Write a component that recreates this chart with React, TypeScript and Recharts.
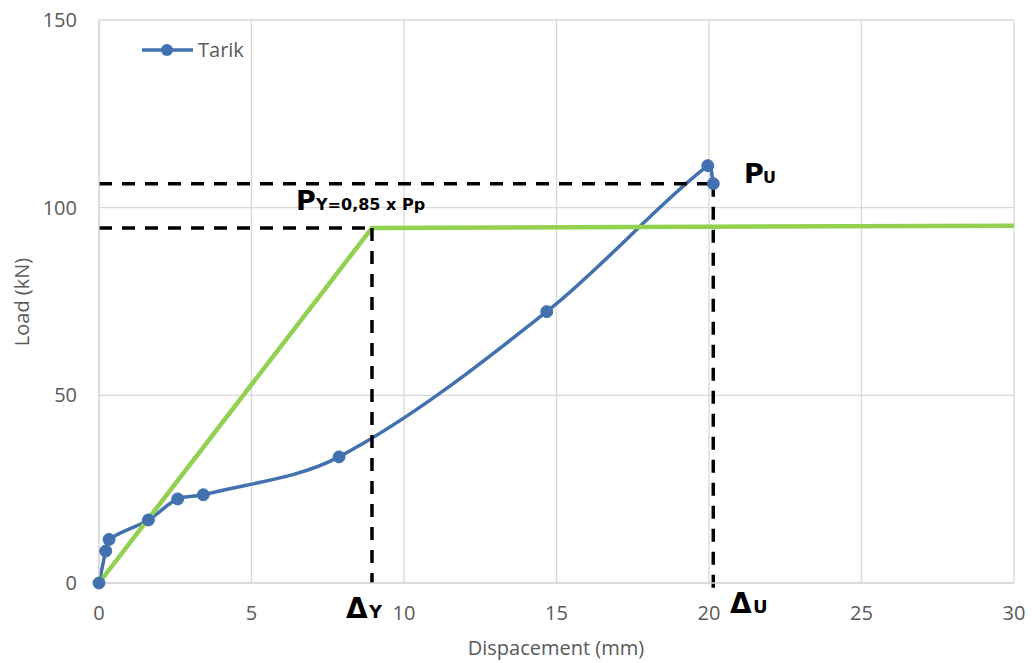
import { LineChart, Line, XAxis, YAxis, CartesianGrid, ReferenceLine } from 'recharts'

// Tarik test: displacement (mm) vs load (kN)
const dispTarik = [0, 0.22, 0.33, 1.62, 2.58, 3.42, 7.87, 14.68, 19.96, 20.14]
const loadTarik = [0, 8.5, 11.6, 16.8, 22.4, 23.5, 33.6, 72.3, 111.2, 106.4]

// idealised bilinear curve
const dispIdeal = [0, 8.95, 30]
const loadIdeal = [0, 94.6, 95.2]

const xTicks = [0, 5, 10, 15, 20, 25, 30]
const yTicks = [0, 50, 100, 150]

const yieldDisp = 8.95
const yieldLoad = 94.6
const ultDisp = 20.14
const ultLoad = 106.4

const BLUE = '#4271B0'
const GREEN = '#92D050'
const GRID = '#D9D9D9'
const TEXT = '#595959'
const FONT = '"Open Sans", "Noto Sans", sans-serif'
const BOLD = '"DejaVu Sans", sans-serif'

const tarik = dispTarik.map((x, i) => ({ x, y: loadTarik[i] }))
const ideal = dispIdeal.map((x, i) => ({ x, y: loadIdeal[i] }))

const dash = { stroke: '#000', strokeWidth: 3.5, strokeDasharray: '13 10' }

// smoothed line: cubic Bezier through every point, tangent taken from the
// neighbours and the handle length weighted by the segment lengths
const smoothCurve = (context: any) => {
  let pts: number[][] = []
  const dist = (a: number[], b: number[]) => Math.hypot(b[0] - a[0], b[1] - a[1])
  return {
    areaStart() {},
    areaEnd() {},
    lineStart() {
      pts = []
    },
    point(x: number, y: number) {
      pts.push([+x, +y])
    },
    lineEnd() {
      if (!pts.length) return
      context.moveTo(pts[0][0], pts[0][1])
      for (let i = 0; i < pts.length - 1; i++) {
        const p0 = pts[i - 1] || pts[i]
        const p1 = pts[i]
        const p2 = pts[i + 1]
        const p3 = pts[i + 2] || p2
        const d01 = dist(p0, p1)
        const d12 = dist(p1, p2)
        const d23 = dist(p2, p3)
        const k1 = d12 / (d01 + d12 || 1) / 3
        const k2 = d12 / (d12 + d23 || 1) / 3
        context.bezierCurveTo(
          p1[0] + (p2[0] - p0[0]) * k1,
          p1[1] + (p2[1] - p0[1]) * k1,
          p2[0] - (p3[0] - p1[0]) * k2,
          p2[1] - (p3[1] - p1[1]) * k2,
          p2[0],
          p2[1],
        )
      }
    },
  }
}

export default function App() {
  return (
    <div style={{ position: 'relative', width: 1032, height: 663 }}>
      <style>{`body { margin: 0; }`}</style>
      <LineChart width={1032} height={663} margin={{ top: 20, right: 18, bottom: 50, left: 39 }}>
        <CartesianGrid stroke={GRID} strokeWidth={1.3} />
        <XAxis
          type="number"
          dataKey="x"
          domain={[0, 30]}
          ticks={xTicks}
          height={30}
          tickLine={false}
          tickSize={0}
          tickMargin={23}
          axisLine={{ stroke: GRID, strokeWidth: 1.3 }}
          tick={{ fill: TEXT, fontSize: 20, fontFamily: FONT }}
        />
        <YAxis
          type="number"
          dataKey="y"
          domain={[0, 150]}
          ticks={yTicks}
          width={60}
          tickLine={false}
          tickSize={0}
          tickMargin={22}
          axisLine={{ stroke: GRID, strokeWidth: 1.3 }}
          tick={{ fill: TEXT, fontSize: 20, fontFamily: FONT }}
        />
        <Line
          data={tarik}
          dataKey="y"
          type={smoothCurve as any}
          stroke={BLUE}
          strokeWidth={3.5}
          dot={{ r: 6, fill: BLUE, stroke: BLUE, strokeWidth: 1, clipDot: false } as any}
          isAnimationActive={false}
        />
        <Line
          data={ideal}
          dataKey="y"
          type="linear"
          stroke={GREEN}
          strokeWidth={4.5}
          dot={false}
          legendType="none"
          isAnimationActive={false}
        />
        <ReferenceLine segment={[{ x: 0, y: ultLoad }, { x: ultDisp, y: ultLoad }]} {...dash} />
        <ReferenceLine segment={[{ x: 0, y: yieldLoad }, { x: yieldDisp, y: yieldLoad }]} {...dash} />
        <ReferenceLine segment={[{ x: yieldDisp, y: yieldLoad }, { x: yieldDisp, y: 0 }]} {...dash} />
        <ReferenceLine
          segment={[{ x: ultDisp, y: ultLoad }, { x: ultDisp, y: -2 }]}
          ifOverflow="visible"
          {...dash}
        />
      </LineChart>
      <svg
        width={1032}
        height={663}
        style={{ position: 'absolute', left: 0, top: 0, pointerEvents: 'none' }}
      >
        {/* legend */}
        <line x1={142} y1={50} x2={193} y2={50} stroke={BLUE} strokeWidth={3.5} />
        <circle cx={167} cy={50} r={6} fill={BLUE} />
        <text x={198} y={57} fill={TEXT} fontSize={20} fontFamily={FONT}>Tarik</text>

        {/* axis titles */}
        <text x={556} y={655} fill={TEXT} fontSize={20} fontFamily={FONT} textAnchor="middle">
          Dispacement (mm)
        </text>
        <text
          x={0}
          y={0}
          transform="translate(29 302) rotate(-90)"
          fill={TEXT}
          fontSize={20}
          fontFamily={FONT}
          textAnchor="middle"
        >
          Load (kN)
        </text>

        {/* annotations */}
        <g fontFamily={BOLD} fontWeight="bold" fill="#000">
          <text x={296} y={210} fontSize={27}>P</text>
          <text x={316} y={210} fontSize={16}>Y=0,85 x Pp</text>
          <text x={744} y={183} fontSize={27}>P</text>
          <text x={763} y={183} fontSize={16}>U</text>
          <text x={346} y={618} fontSize={28}>Δ</text>
          <text x={369} y={618} fontSize={18}>Y</text>
          <text x={730} y={613} fontSize={28}>Δ</text>
          <text x={753} y={613} fontSize={18}>U</text>
        </g>
      </svg>
    </div>
  )
}
